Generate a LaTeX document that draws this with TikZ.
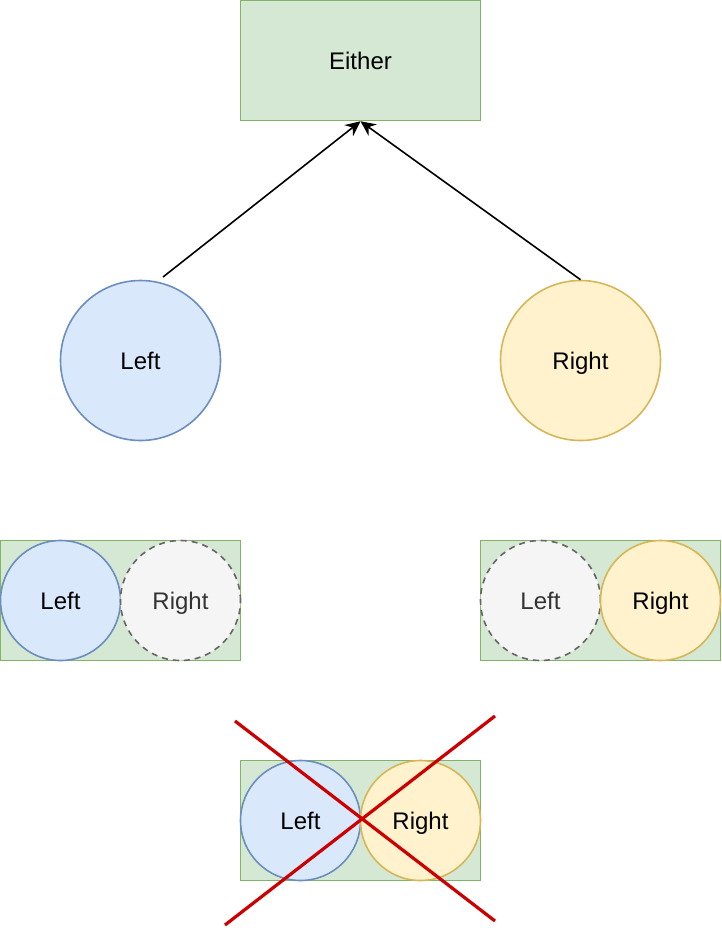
\documentclass[tikz,border=0pt]{standalone}
\usepackage{fontspec}
\setmainfont{Liberation Sans}
\usetikzlibrary{arrows.meta}
\definecolor{grfill}{HTML}{D5E8D4}
\definecolor{grline}{HTML}{82B366}
\definecolor{blfill}{HTML}{DAE8FC}
\definecolor{blline}{HTML}{6C8EBF}
\definecolor{yefill}{HTML}{FFF2CC}
\definecolor{yeline}{HTML}{D6B656}
\definecolor{gyfill}{HTML}{F5F5F5}
\definecolor{gyline}{HTML}{666666}
\definecolor{gytext}{HTML}{333333}
\definecolor{xred}{HTML}{CC0000}
\begin{document}
\begin{tikzpicture}[x=1pt,y=-1pt,line width=1.6pt,
  font=\fontsize{24}{28}\selectfont,
  every node/.style={text height=17pt,text depth=0pt},
  box/.style={draw=grline,fill=grfill,rectangle,inner sep=0pt},
  leftc/.style={draw=blline,fill=blfill,circle,inner sep=0pt,minimum size=#1},
  rightc/.style={draw=yeline,fill=yefill,circle,inner sep=0pt,minimum size=#1},
  ghost/.style={draw=gyline,fill=gyfill,text=gytext,circle,inner sep=0pt,dash pattern=on 6pt off 5pt,minimum size=#1},
  link/.style={-{Stealth[length=15pt,width=14pt,inset=5pt]},line width=1.6pt},
  cross/.style={draw=xred,line width=3.2pt}]
\useasboundingbox (0,0) rectangle (722,930);

% top-level type
\node[box,minimum width=240pt,minimum height=120pt] (either) at (360.5,60.5) {Either};

% the two constructors
\node[leftc=160pt] (left) at (140.5,360.5) {Left};
\node[rightc=160pt] (right) at (580.5,360.5) {Right};
\coordinate (lstart) at (163,277);
\draw[link] (lstart) -- (either.south);
\draw[link] (right.north) -- (either.south);

% a value holding Left
\node[box,minimum width=240pt,minimum height=120pt] (vl) at (120.5,600.5) {};
\node[leftc=120pt] (vlL) at (60.5,600.5) {Left};
\node[ghost=120pt] (vlR) at (180.5,600.5) {Right};

% a value holding Right
\node[box,minimum width=240pt,minimum height=120pt] (vr) at (600.5,600.5) {};
\node[ghost=120pt] (vrL) at (540.5,600.5) {Left};
\node[rightc=120pt] (vrR) at (660.5,600.5) {Right};

% both at once is not allowed
\node[box,minimum width=240pt,minimum height=120pt] (vb) at (360.5,820.5) {};
\node[leftc=120pt] (vbL) at (300.5,820.5) {Left};
\node[rightc=120pt] (vbR) at (420.5,820.5) {Right};
\coordinate (x1a) at (235,721);
\coordinate (x1b) at (495,921);
\coordinate (x2a) at (225,925);
\coordinate (x2b) at (495,716);
\draw[cross] (x1a) -- (x1b);
\draw[cross] (x2a) -- (x2b);
\end{tikzpicture}
\end{document}
